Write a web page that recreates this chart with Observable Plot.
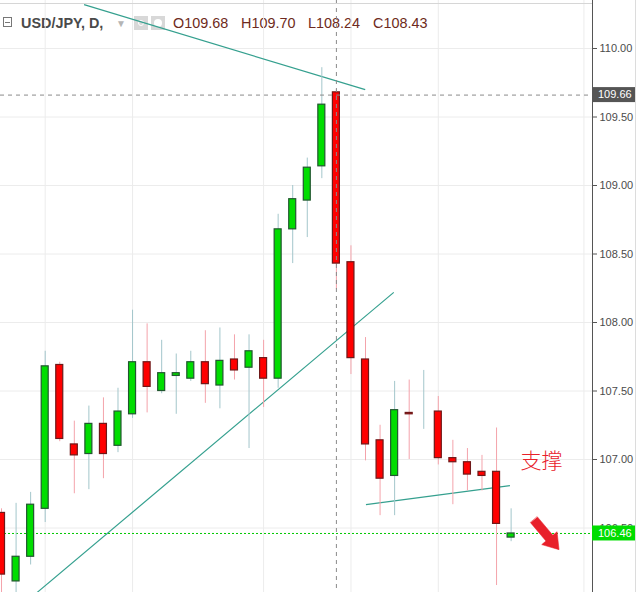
<!DOCTYPE html>
<html>
<head>
<meta charset="utf-8">
<script src="https://cdn.jsdelivr.net/npm/d3@7"></script>
<script src="https://cdn.jsdelivr.net/npm/@observablehq/plot@0.6"></script>
<style>
  body { margin: 0; background: #fff; }
  #wrap { position: relative; width: 639px; height: 592px; overflow: hidden; background: #fff; }
  #hdr { position: absolute; left: 0; top: 0; width: 639px; height: 40px; z-index: 0; font-family: "Liberation Sans", Arial, sans-serif; }
  #hdr .t { position: absolute; top: 15px; line-height: 16px; font-size: 14.4px; white-space: nowrap; }
  #chart { position: absolute; left: 0; top: 0; z-index: 1; }
  #topline { position: absolute; left: 0; top: 3px; width: 592px; height: 1px; background: #d6d6d6; z-index: 2; }
  #rightline { position: absolute; left: 635px; top: 0; width: 1px; height: 592px; background: #dcdcdc; z-index: 2; }
</style>
</head>
<body>
<div id="wrap">
  <div id="hdr">
    <div style="position:absolute;left:3px;top:17px;width:9px;height:10px;border:1px solid #777;box-sizing:border-box;"></div>
    <div style="position:absolute;left:5px;top:21.5px;width:5px;height:1px;background:#777;"></div>
    <div class="t" style="left:21px;color:#4a4a4a;font-weight:bold;">USD/JPY, D,</div>
    <div class="t" style="left:116px;color:#b5b5b5;font-size:10px;top:16px;">▼</div>
    <div style="position:absolute;left:134px;top:16px;width:14px;height:14px;background:#d8d8d8;"></div>
    <div style="position:absolute;left:138px;top:20px;width:4px;height:4px;border:1.5px solid #fff;border-radius:50%;"></div>
    <div style="position:absolute;left:151px;top:16px;width:14px;height:14px;background:#d8d8d8;"></div>
    <div style="position:absolute;left:154px;top:19px;width:8px;height:8px;background:#fff;border-radius:50%;"></div>
    <div class="t" style="left:173px;color:#6e2a20;">O109.68</div>
    <div class="t" style="left:241px;color:#6e2a20;">H109.70</div>
    <div class="t" style="left:308px;color:#6e2a20;">L108.24</div>
    <div class="t" style="left:373px;color:#6e2a20;">C108.43</div>
  </div>
  <div id="chart"></div>
  <div id="topline"></div>
  <div id="rightline"></div>
</div>
<script>
// ---- data ----
const opens  = [106.61,106.11,106.29,106.64,107.69,107.11,107.04,107.26,107.10,107.33,107.71,107.50,107.61,107.59,107.71,107.54,107.73,107.67,107.74,107.59,108.68,108.89,109.14,109.68,108.44,107.73,107.14,106.88,107.34,107.34,107.35,107.01,106.98,106.91,106.91,106.43];
const highs  = [106.64,106.68,106.76,107.79,107.71,107.28,107.39,107.45,107.52,108.09,107.99,107.87,107.77,107.79,107.94,107.96,107.91,107.91,107.87,108.79,109.00,109.20,109.86,109.70,108.56,107.89,107.25,107.57,107.58,107.65,107.46,107.14,107.08,107.03,107.23,106.64];
const lows   = [105.90,105.95,106.23,106.54,107.13,106.75,106.78,106.86,107.05,107.30,107.34,107.48,107.33,107.57,107.41,107.37,107.58,107.08,107.38,107.52,108.43,108.62,109.05,108.24,107.62,106.99,106.59,106.59,107.00,107.22,106.96,106.67,106.77,106.77,106.08,106.40];
const closes = [106.16,106.29,106.67,107.68,107.15,107.03,107.26,107.04,107.35,107.71,107.53,107.63,107.63,107.71,107.55,107.72,107.65,107.79,107.59,108.68,108.90,109.13,109.59,108.43,107.74,107.11,106.86,107.36,107.33,107.34,107.01,106.98,106.89,106.88,106.53,106.46];

const yTicks = [110.00, 109.50, 109.00, 108.50, 108.00, 107.50, 107.00, 106.50];
const xGridIndex = [3, 9, 18, 24, 30, 40];
const xDomain = [-0.07, 40.59];
const yDomain = [106.0292, 110.3504];

const crossIndex = [23];
const crossPrice = [109.66];
const lastPrice = [106.46];

const trendLines = [
  {i1: 5.67, p1: 110.32, i2: 24.98, p2: 109.70},
  {i1: 2.45, p1: 106.03, i2: 26.94, p2: 108.22},
  {i1: 25.03, p1: 106.67, i2: 34.92, p2: 106.81}
];
const notes = [{i: 37.09, p: 106.99, text: "支撑"}];
const arrows = [{i: 36.57, p: 106.56}];
const priceTags = [
  {p: 109.66, label: "109.66", bg: "#555555"},
  {p: 106.46, label: "106.46", bg: "#00dd00"}
];

// ---- build ----
const candles = opens.map((o, i) => ({
  i, o, h: highs[i], l: lows[i], c: closes[i], up: closes[i] >= o
}));
const half = 0.24;

const fatArrow = {
  draw(context, l, r) {
    const sw = 4.5, hw = 10, hl = 15;
    context.moveTo(-sw, 0);
    context.lineTo(-sw, -l + hl);
    context.lineTo(-hw, -l + hl);
    context.lineTo(0, -l);
    context.lineTo(hw, -l + hl);
    context.lineTo(sw, -l + hl);
    context.lineTo(sw, 0);
    context.closePath();
  }
};

const chart = Plot.plot({
  width: 639,
  height: 592,
  marginLeft: 0,
  marginRight: 47,
  marginTop: 0,
  marginBottom: 0,
  style: {background: "transparent", fontFamily: "Liberation Sans, Arial, sans-serif", fontSize: "11px", color: "#4b4b4b"},
  x: {domain: xDomain, axis: null},
  y: {domain: yDomain, axis: null},
  marks: [
    Plot.ruleY(yTicks, {stroke: "#ececec", strokeWidth: 1}),
    Plot.ruleX(xGridIndex, {stroke: "#ececec", strokeWidth: 1}),
    Plot.link(trendLines, {x1: "i1", y1: "p1", x2: "i2", y2: "p2", stroke: "#35a08f", strokeWidth: 1.2}),
    Plot.ruleY(lastPrice, {stroke: "#00c800", strokeWidth: 1, strokeDasharray: "2,2"}),
    Plot.ruleX(candles, {x: "i", y1: "l", y2: "h", stroke: d => d.up ? "#a3c6cb" : "#f4a3ab", strokeWidth: 1}),
    Plot.rect(candles, {
      x1: d => d.i - half, x2: d => d.i + half,
      y1: "o", y2: "c",
      fill: d => d.up ? "#00dd00" : "#ff0000",
      stroke: d => d.up ? "#21562f" : "#6e1818",
      strokeWidth: 1.2
    }),
    Plot.ruleX(crossIndex, {stroke: "#8a8a8a", strokeWidth: 1, strokeDasharray: "4,4"}),
    Plot.ruleY(crossPrice, {stroke: "#8a8a8a", strokeWidth: 1, strokeDasharray: "4,4"}),
    Plot.text(notes, {x: "i", y: "p", text: "text", fill: "#e8202a", fontSize: 21, fontFamily: "Noto Sans CJK SC", fontWeight: 300}),
    Plot.vector(arrows, {x: "i", y: "p", length: 39, rotate: 140, anchor: "start", shape: fatArrow, fill: "#e8202a", stroke: "#e8202a", strokeWidth: 0.5}),
    Plot.ruleX([xDomain[1]], {stroke: "#555555", strokeWidth: 1}),
    Plot.axisY(yTicks, {anchor: "right", tickSize: 4, tickPadding: 3, tickFormat: d => d.toFixed(2), stroke: "#555555", fill: "#4b4b4b", fontSize: 11})
  ]
});

document.getElementById("chart").appendChild(chart);

// price tags on the axis, positioned through the library's scales
const ys = chart.scale("y");
const xs = chart.scale("x");
const x0 = xs.apply(xDomain[1]);
const svg = d3.select(chart);
const g = svg.append("g").attr("text-anchor", "start");
priceTags.forEach(t => {
  const y = ys.apply(t.p);
  g.append("rect").attr("x", x0).attr("y", y - 7.5).attr("width", 43).attr("height", 15).attr("fill", t.bg);
  g.append("text").attr("x", x0 + 6).attr("y", y).attr("dy", "0.35em")
    .attr("text-anchor", "start")
    .attr("fill", "#ffffff").attr("font-size", 11)
    .attr("font-family", "Liberation Sans, Arial, sans-serif").text(t.label);
});
</script>
</body>
</html>
